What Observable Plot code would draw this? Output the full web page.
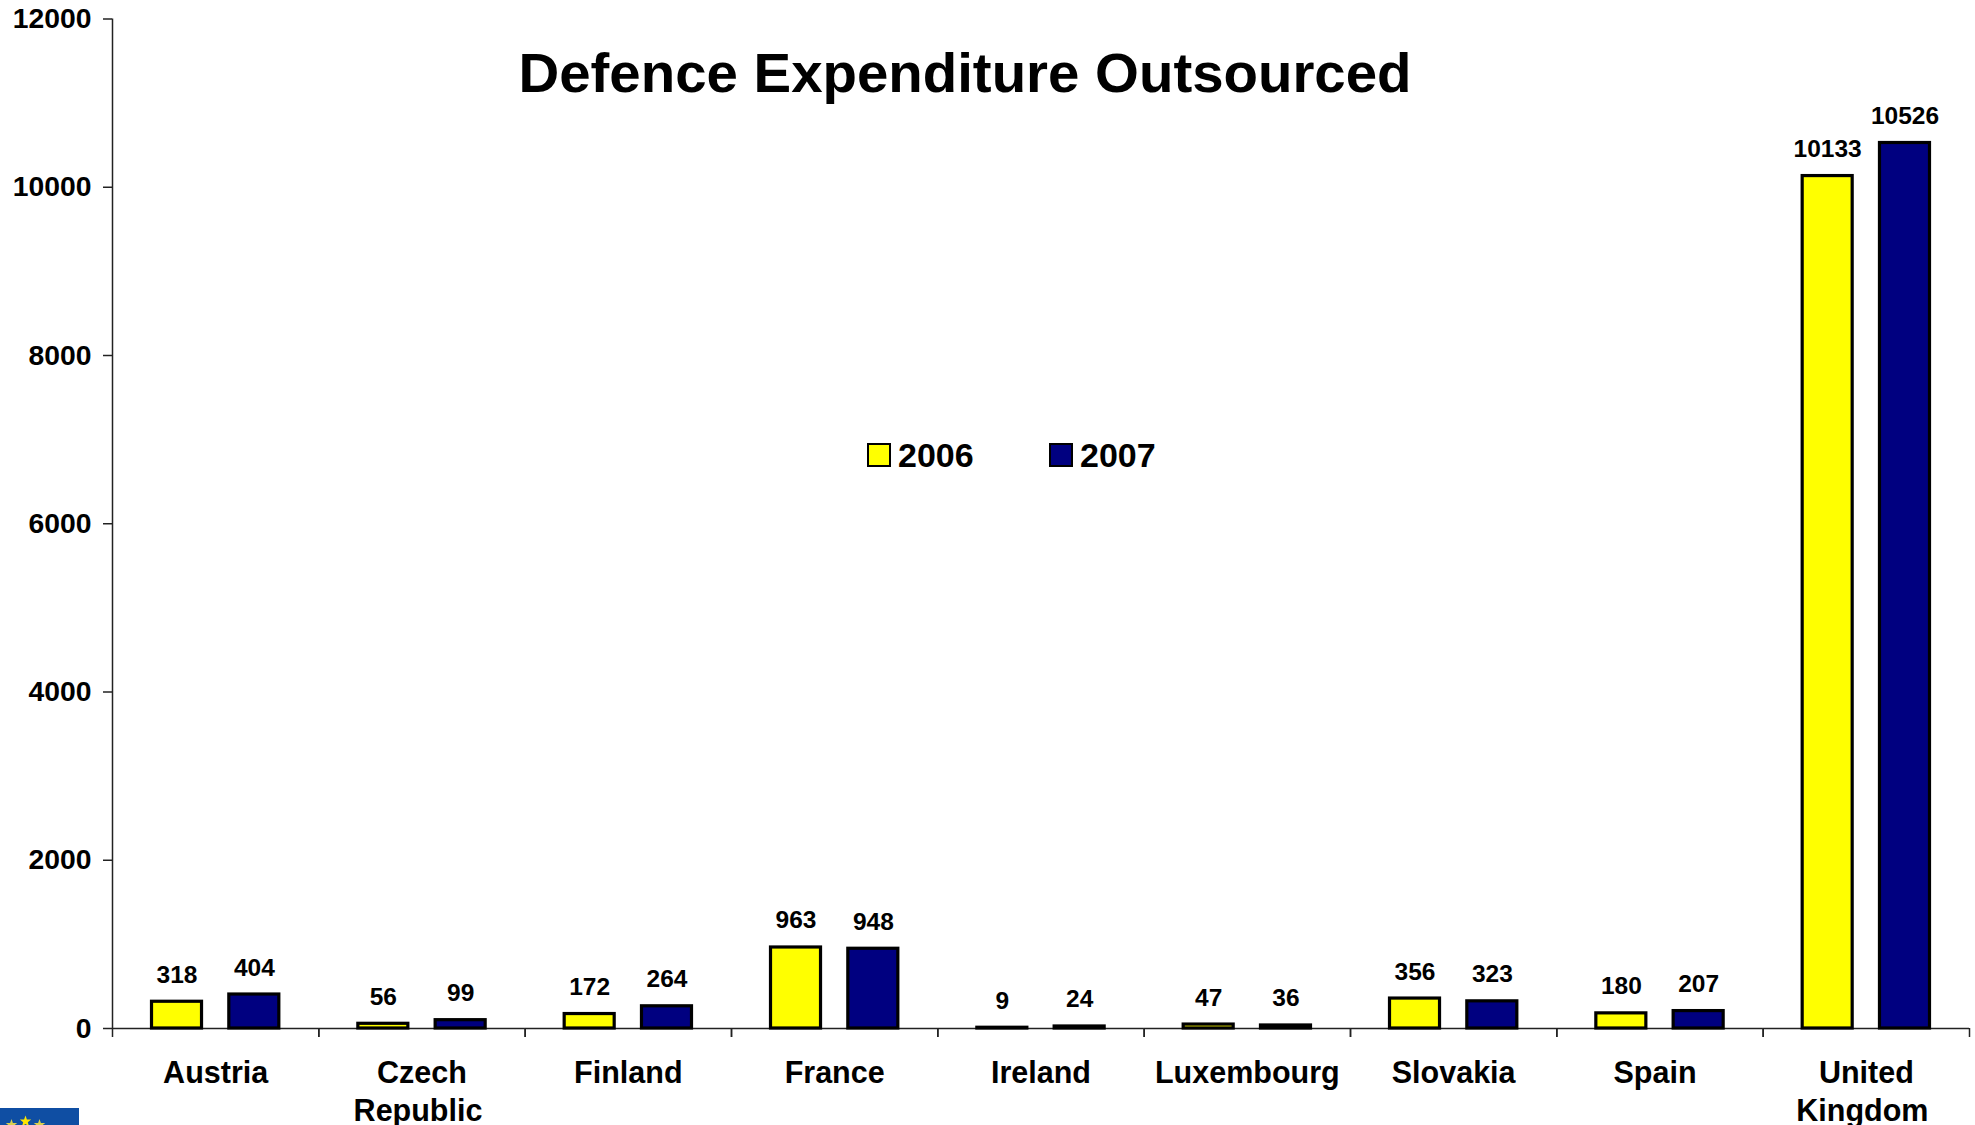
<!DOCTYPE html>
<html><head><meta charset="utf-8">
<script src="https://cdn.jsdelivr.net/npm/d3@7"></script>
<script src="https://cdn.jsdelivr.net/npm/@observablehq/plot@0.6"></script>
<style>
html,body{margin:0;padding:0;background:#fff;overflow:hidden}
#wrap{position:relative;width:1975px;height:1125px;font-family:"Liberation Sans",Arial,sans-serif;font-weight:bold;color:#000}
#wrap svg{display:block}
#title{position:absolute;left:0;width:1930px;top:40px;text-align:center;font-size:56.4px;line-height:66px}
.lg{position:absolute;top:436px;font-size:34px;line-height:38px;display:flex;align-items:center;gap:7px}
.sw{width:20px;height:20px;border:2.5px solid #000;display:inline-block}
#logo{position:absolute;left:0;top:1108px}
</style></head><body>
<div id="wrap">
<div id="chart"></div>
<div id="title">Defence Expenditure Outsourced</div>
<div class="lg" style="left:867px"><i class="sw" style="background:#ffff00"></i>2006</div>
<div class="lg" style="left:1049px"><i class="sw" style="background:#000080"></i>2007</div>
<svg id="logo" width="79" height="17" viewBox="0 0 79 17">
  <rect width="79" height="17" fill="#0f4ea3"/>
  <defs><polygon id="star" points="0,-6 1.4,-1.9 5.7,-1.9 2.3,0.7 3.5,4.9 0,2.4 -3.5,4.9 -2.3,0.7 -5.7,-1.9 -1.4,-1.9"/></defs>
  <use href="#star" x="11.5" y="17" fill="#d8cf50"/>
  <use href="#star" x="25.5" y="13.5" fill="#ffe600"/>
  <use href="#star" x="39.5" y="17" fill="#d8cf50"/>
</svg>
</div>
<script>
const categories = ["Austria","Czech\nRepublic","Finland","France","Ireland","Luxembourg","Slovakia","Spain","United\nKingdom"];
const values2006 = [318,56,172,963,9,47,356,180,10133];
const values2007 = [404,99,264,948,24,36,323,207,10526];
const years = ["2006","2007"];
const colors = ["#ffff00","#000080"];
const yTicks = [0,2000,4000,6000,8000,10000,12000];

const rows = categories.flatMap((c,i)=>[
  {category:c,year:"2006",value:values2006[i]},
  {category:c,year:"2007",value:values2007[i]}
]);
const step = (1969-112)/categories.length;
const font = '"Liberation Sans",Arial,sans-serif';
const lineOne = d => d.split("\n")[0];
const lineTwo = d => d.split("\n")[1] ?? "";
const labelStyle = {anchor:"bottom", tickSize:0, fontSize:30.5, fontWeight:"bold", label:null};

const plot = Plot.plot({
  width:1975, height:1125,
  marginTop:18.5, marginBottom:97, marginLeft:112, marginRight:6,
  style:{fontFamily:font, background:"#fff", color:"#000"},
  fx:{domain:categories, padding:0, round:false, label:null},
  x:{domain:years, paddingInner:0.353, paddingOuter:0.511, round:false, axis:null},
  y:{domain:[0,12000], label:null},
  color:{domain:years, range:colors},
  marks:[
    Plot.ruleY([0],{stroke:"#222",strokeWidth:1.5}),
    Plot.ruleX([categories[0]],{fx:d=>d, x:null, y1:0, y2:12000, dx:-step/2, stroke:"#222", strokeWidth:1.5}),
    Plot.axisY({ticks:yTicks, tickSize:9, tickPadding:12, fontSize:28.3, fontWeight:"bold", label:null, stroke:"#222", strokeWidth:1.5, tickFormat:d=>String(d)}),
    Plot.axisFx({anchor:"bottom", tickSize:9, tickFormat:null, dx:-step/2, stroke:"#222", strokeWidth:1.5, label:null}),
    Plot.axisFx({anchor:"bottom", tickSize:9, tickFormat:null, dx:step/2, stroke:"#222", strokeWidth:1.5, label:null}),
    Plot.axisFx({...labelStyle, ticks:categories.filter(c=>c!=="Spain"), tickPadding:32.5, tickFormat:lineOne}),
    Plot.axisFx({...labelStyle, ticks:["Spain"], tickPadding:32.5, dx:-5, tickFormat:lineOne}),
    Plot.axisFx({...labelStyle, ticks:categories.filter(c=>lineTwo(c)), tickPadding:70.5, dx:-4, tickFormat:lineTwo}),
    Plot.barY(rows,{fx:"category", x:"year", y:"value", fill:"year", stroke:"#000", strokeWidth:3.2}),
    Plot.text(rows,{fx:"category", x:"year", y:"value", text:d=>String(d.value), dy:-19, lineAnchor:"bottom", fontSize:24.5, fontWeight:"bold", fill:"#000"})
  ]
});
document.getElementById("chart").append(plot);
</script>
</body></html>
